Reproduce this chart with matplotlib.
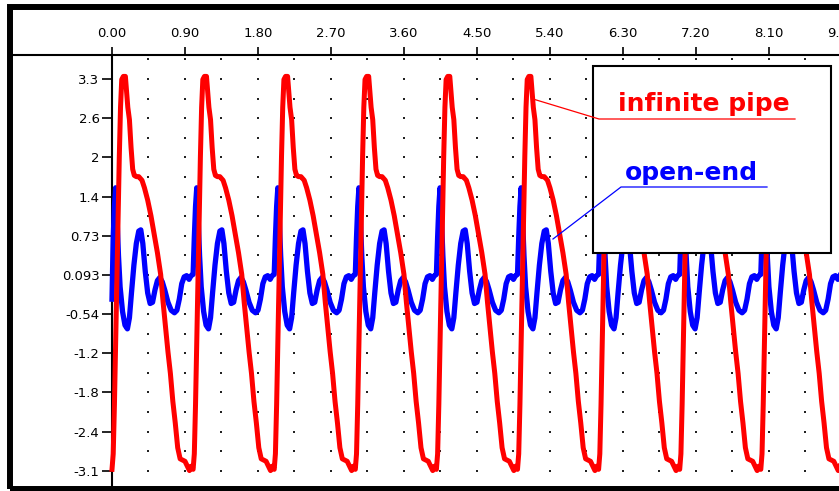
import matplotlib.pyplot as plt
import numpy as np
from matplotlib.patches import Rectangle

# top axis ticks
xtick_vals = [0.0, 0.9, 1.8, 2.7, 3.6, 4.5, 5.4, 6.3, 7.2, 8.1, 9.0]
xtick_labels = ["0.00", "0.90", "1.80", "2.70", "3.60", "4.50",
                "5.40", "6.30", "7.20", "8.10", "9.00"]

# left axis ticks (labels are rounded values of an evenly spaced scale)
ytick_vals = [3.258, 2.625, 1.992, 1.359, 0.726, 0.093,
              -0.540, -1.173, -1.806, -2.439, -3.072]
ytick_labels = ["3.3", "2.6", "2", "1.4", "0.73", "0.093",
                "-0.54", "-1.2", "-1.8", "-2.4", "-3.1"]

# one cycle of each wave (phase within a period of 1.0)
red_phase = [0.000, 0.015, 0.030, 0.045, 0.060, 0.075, 0.090, 0.105, 0.120,
             0.140, 0.165, 0.180, 0.195, 0.215, 0.235, 0.255, 0.275, 0.300,
             0.330, 0.370, 0.400, 0.440, 0.480, 0.520, 0.560, 0.600, 0.630,
             0.660, 0.690, 0.720, 0.750, 0.780, 0.810, 0.840, 0.870, 0.900,
             0.930, 0.955, 0.975]
red_vals = [-3.05, -2.8, -2.0, -1.0, 0.0, 1.0, 2.0, 2.8, 3.25,
            3.3, 3.3, 3.05, 2.8, 2.6, 2.15, 1.8, 1.7, 1.68,
            1.68, 1.62, 1.5, 1.3, 1.05, 0.75, 0.45, 0.1, -0.35,
            -0.75, -1.15, -1.5, -1.95, -2.3, -2.7, -2.88, -2.9, -2.92,
            -3.0, -3.07, -3.0]

blue_phase = [0.000, 0.015, 0.030, 0.045, 0.060, 0.080, 0.100, 0.130, 0.160,
              0.190, 0.215, 0.240, 0.270, 0.300, 0.330, 0.355, 0.380, 0.410,
              0.440, 0.470, 0.500, 0.530, 0.560, 0.590, 0.620, 0.650, 0.690,
              0.730, 0.770, 0.800, 0.830, 0.860, 0.890, 0.920, 0.950, 0.975]
blue_vals = [0.1, 0.7, 1.2, 1.5, 1.1, 0.4, -0.1, -0.5, -0.72,
             -0.78, -0.6, -0.2, 0.25, 0.6, 0.8, 0.82, 0.6, 0.15,
             -0.2, -0.37, -0.35, -0.15, 0.0, 0.05, -0.02, -0.15, -0.35,
             -0.48, -0.52, -0.48, -0.3, -0.05, 0.06, 0.08, 0.02, 0.08]
blue_start = -0.3

cycle_starts = [0, 1, 2, 3, 4, 5, 6, 7, 8]

red_t = np.concatenate([s + np.array(red_phase) for s in cycle_starts])
red_y = np.tile(red_vals, len(cycle_starts))
blue_t = np.concatenate([s + np.array(blue_phase) for s in cycle_starts])
blue_y = np.tile(blue_vals, len(cycle_starts))
blue_y[0] = blue_start

W, H = 839, 491
X0, PXX = 112, 81.1          # pixel of x=0 and pixels per unit
YREF, YREFV, PXY = 79, 3.258, 61.88

fig = plt.figure(figsize=(W / 100, H / 100), dpi=100)
ax = fig.add_axes([13 / W, 5 / H, (845 - 13) / W, (486 - 55) / H])
ax.set_xlim((13 - X0) / PXX, (845 - X0) / PXX)
ax.set_ylim(YREFV - (486 - YREF) / PXY, YREFV + (YREF - 55) / PXY)

# dotted grid
gx = np.arange(1, 20) * 0.45
gy = 0.093 + 0.3165 * np.arange(-10, 12)
GX, GY = np.meshgrid(gx, gy)
ax.scatter(GX.ravel(), GY.ravel(), s=0.9, marker='s', color='#222222',
           linewidths=0, zorder=1)

ax.plot(blue_t, blue_y, color='#0000ff', lw=3.8, zorder=3)
ax.plot(red_t, red_y, color='#ff0000', lw=3.6, zorder=4)

# axes styling
for side in ['bottom', 'right']:
    ax.spines[side].set_visible(False)
ax.spines['top'].set_linewidth(1.5)
ax.spines['left'].set_linewidth(1.5)
ax.spines['left'].set_position(('data', 0))

ax.xaxis.tick_top()
ax.set_xticks(xtick_vals)
ax.set_xticklabels(xtick_labels)
ax.set_yticks(ytick_vals)
ax.set_yticklabels(ytick_labels)
ax.tick_params(axis='x', direction='out', length=6, width=1.2, pad=5,
               labelsize=9.5)
ax.tick_params(axis='y', direction='out', length=7, width=1.2, pad=2,
               labelsize=9.5)

# legend box with labels and leader lines
def dx(px):
    return (px - X0) / PXX

def dy(py):
    return YREFV - (py - YREF) / PXY

ax.add_patch(Rectangle((dx(593), dy(252.7)), dx(831) - dx(593),
                       dy(66) - dy(252.7), facecolor='white',
                       edgecolor='black', lw=1.5, zorder=5))
ax.plot([dx(533), dx(599), dx(795)], [dy(99), dy(119), dy(119)],
        color='#ff0000', lw=0.9, zorder=6)
ax.plot([dx(553), dx(621), dx(767)], [dy(239), dy(187), dy(187)],
        color='#0000ff', lw=0.9, zorder=6)
ax.text(dx(704), dy(111), "infinite pipe", color='#ff0000', fontsize=18,
        fontweight='bold', ha='center', va='baseline', zorder=7)
ax.text(dx(691), dy(180), "open-end", color='#0000ff', fontsize=18,
        fontweight='bold', ha='center', va='baseline', zorder=7)

# outer black frame
fig.add_artist(Rectangle((10 / W, 2 / H), 850 / W, (491 - 6.75 - 2) / H,
                         transform=fig.transFigure, fill=False,
                         edgecolor='black', lw=4.3))

fig.savefig('out.png', dpi=100)
plt.close()
